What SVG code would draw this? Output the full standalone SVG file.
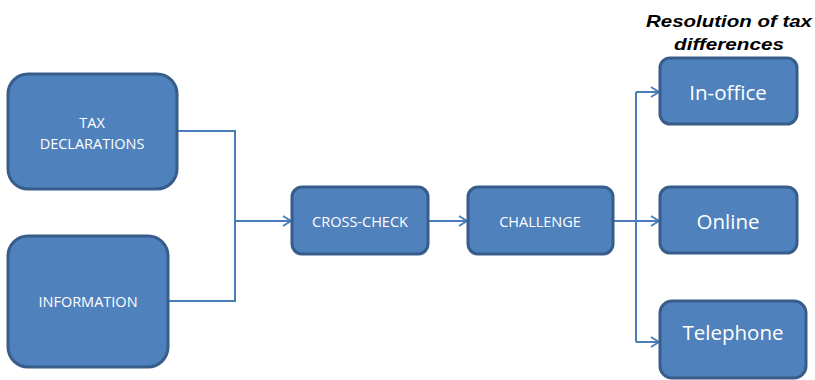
<svg xmlns="http://www.w3.org/2000/svg" width="815" height="380" viewBox="0 0 815 380">
  <style>
    .box { fill: #4F81BD; stroke: #385D8A; stroke-width: 3; }
    .lbl { fill: #FFFFFF; font-family: "Open Sans", "Noto Sans", sans-serif; text-anchor: middle; dominant-baseline: central; }
    .sm { font-size: 14.5px; }
    .lg { font-size: 20.5px; }
    .wire { fill: none; stroke: #4A7EBB; stroke-width: 2; }
    .title { font-family: "Liberation Sans", Arial, sans-serif; font-size: 17px; font-weight: bold; font-style: italic; fill: #000000; text-anchor: middle; }
  </style>
  <defs>
    <marker id="arrow" viewBox="0 0 10 12" refX="9" refY="6" markerWidth="10" markerHeight="12" markerUnits="userSpaceOnUse" orient="auto">
      <path d="M1,1 L9,6 L1,11" fill="none" stroke="#4A7EBB" stroke-width="2"/>
    </marker>
  </defs>

  <rect width="815" height="380" fill="#FFFFFF"/>

  <g id="connectors">
    <path class="wire" d="M177,131 H235 V301 H168"/>
    <path class="wire" d="M235,221 H291" marker-end="url(#arrow)"/>
    <path class="wire" d="M428,221 H467" marker-end="url(#arrow)"/>
    <path class="wire" d="M613,221 H659" marker-end="url(#arrow)"/>
    <path class="wire" d="M636,92 V342"/>
    <path class="wire" d="M636,92 H659" marker-end="url(#arrow)"/>
    <path class="wire" d="M636,342 H659" marker-end="url(#arrow)"/>
  </g>

  <g id="node-tax-declarations">
    <rect class="box" x="8" y="74" width="169" height="115" rx="20"/>
    <text class="lbl sm" x="92" y="122">TAX</text>
    <text class="lbl sm" x="92" y="143">DECLARATIONS</text>
  </g>

  <g id="node-information">
    <rect class="box" x="8" y="236" width="160" height="131" rx="20"/>
    <text class="lbl sm" x="88" y="301">INFORMATION</text>
  </g>

  <g id="node-cross-check">
    <rect class="box" x="292" y="187" width="136" height="67" rx="10"/>
    <text class="lbl sm" x="360" y="221">CROSS-CHECK</text>
  </g>

  <g id="node-challenge">
    <rect class="box" x="468" y="187" width="145" height="67" rx="10"/>
    <text class="lbl sm" x="540" y="221">CHALLENGE</text>
  </g>

  <g id="node-resolution-title">
    <text class="title" x="729" y="27" textLength="166" lengthAdjust="spacingAndGlyphs">Resolution of tax</text>
    <text class="title" x="729" y="50" textLength="110" lengthAdjust="spacingAndGlyphs">differences</text>
  </g>

  <g id="node-in-office">
    <rect class="box" x="660" y="58" width="137" height="66" rx="10"/>
    <text class="lbl lg" x="728" y="92">In-office</text>
  </g>

  <g id="node-online">
    <rect class="box" x="660" y="187" width="137" height="66" rx="10"/>
    <text class="lbl lg" x="728" y="221">Online</text>
  </g>

  <g id="node-telephone">
    <rect class="box" x="660" y="301" width="146" height="77" rx="12"/>
    <text class="lbl lg" x="733" y="332">Telephone</text>
  </g>
</svg>
